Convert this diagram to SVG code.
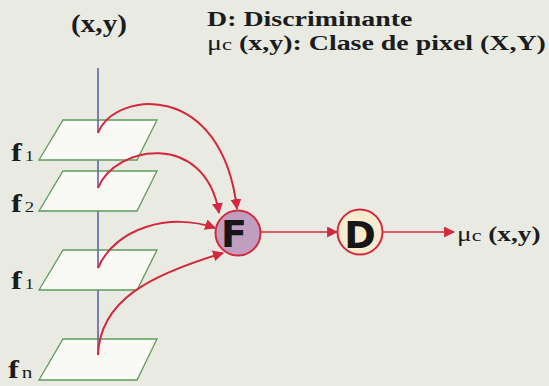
<svg xmlns="http://www.w3.org/2000/svg" width="549" height="386" viewBox="0 0 549 386">
<style>
.bg{fill:#e9ebe3}
.plane{fill:#f9faf6;stroke:#5f9b5c;stroke-width:1.3}
.axis{stroke:#4a4fa0;stroke-width:1.4;fill:none}
.conn{stroke:#d3283e;stroke-width:2;fill:none}
.st{stroke:#d3283e;stroke-width:1.5;fill:none}
.node{stroke:#d3283e;stroke-width:2}
.t{font-family:"Liberation Serif","Times New Roman",serif;fill:#1c1c1c}
.b{font-weight:bold}
.big{font-family:"DejaVu Sans",sans-serif;font-weight:bold;font-size:38px;fill:#161616;text-anchor:middle}
</style>
<defs>
<marker id="ah" viewBox="0 0 10 10" refX="9" refY="5" markerWidth="11" markerHeight="11" markerUnits="userSpaceOnUse" orient="auto">
<path d="M0,0 L10,5 L0,10 z" fill="#d3283e"/>
</marker>
</defs>
<rect class="bg" x="0" y="0" width="549" height="386"/>

<g id="title">
<text class="t b" font-size="21" transform="translate(207,26) scale(1.33,1)">D: Discriminante</text>
<text class="t" font-size="21" transform="translate(207,50) scale(1.33,1)"><tspan>μ</tspan><tspan font-size="17">c</tspan><tspan class="b"> (x,y): Clase de pixel (X,Y)</tspan></text>
</g>

<g id="axis-label">
<text class="t b" font-size="25" transform="translate(71,32) scale(1.17,1)">(x,y)</text>
</g>

<line class="axis" x1="98" y1="68" x2="98" y2="355"/>

<g id="plane-f1">
<polygon class="plane" points="63,120 157,120 137,160 39,160"/>
<line class="axis" x1="98" y1="120" x2="98" y2="133"/>
<text class="t" transform="translate(11,161) scale(1.25,1)"><tspan class="b" font-size="26">f</tspan><tspan x="11" font-size="15">1</tspan></text>
</g>
<g id="plane-f2">
<polygon class="plane" points="63,171 157,171 137,211 39,211"/>
<line class="axis" x1="98" y1="171" x2="98" y2="188"/>
<text class="t" transform="translate(11,212) scale(1.25,1)"><tspan class="b" font-size="26">f</tspan><tspan x="11" font-size="15">2</tspan></text>
</g>
<g id="plane-f1b">
<polygon class="plane" points="63,250 157,250 137,290 39,290"/>
<line class="axis" x1="98" y1="250" x2="98" y2="268"/>
<text class="t" transform="translate(11,289) scale(1.25,1)"><tspan class="b" font-size="26">f</tspan><tspan x="11" font-size="15">1</tspan></text>
</g>
<g id="plane-fn">
<polygon class="plane" points="63,339 157,339 137,380 39,380"/>
<line class="axis" x1="98" y1="339" x2="98" y2="355"/>
<text class="t" transform="translate(8,378) scale(1.25,1)"><tspan class="b" font-size="26">f</tspan><tspan x="11" font-size="17">n</tspan></text>
</g>

<g id="connectors">
<path class="conn" d="M98,133 C115,90 222,80 237,209" marker-end="url(#ah)"/>
<path class="conn" d="M98,188 C115,145 205,130 219,213" marker-end="url(#ah)"/>
<path class="conn" d="M98,268 C115,228 170,212 215,228" marker-end="url(#ah)"/>
<path class="conn" d="M98,355 C100,300 150,275 223,253" marker-end="url(#ah)"/>
<line class="st" x1="260" y1="232" x2="337" y2="232" marker-end="url(#ah)"/>
<line class="st" x1="383" y1="232" x2="454" y2="232" marker-end="url(#ah)"/>
</g>

<g id="node-F">
<circle class="node" cx="238" cy="233" r="22.5" fill="#bf9ebf"/>
<text class="big" x="234" y="247">F</text>
</g>
<g id="node-D">
<circle class="node" cx="360" cy="232" r="22.5" fill="#f7ecd0"/>
<text class="big" x="360" y="248">D</text>
</g>

<g id="output-label">
<text class="t" font-size="21" transform="translate(457,241) scale(1.3,1)"><tspan>μ</tspan><tspan font-size="17">c</tspan><tspan class="b"> (x,y)</tspan></text>
</g>
</svg>
